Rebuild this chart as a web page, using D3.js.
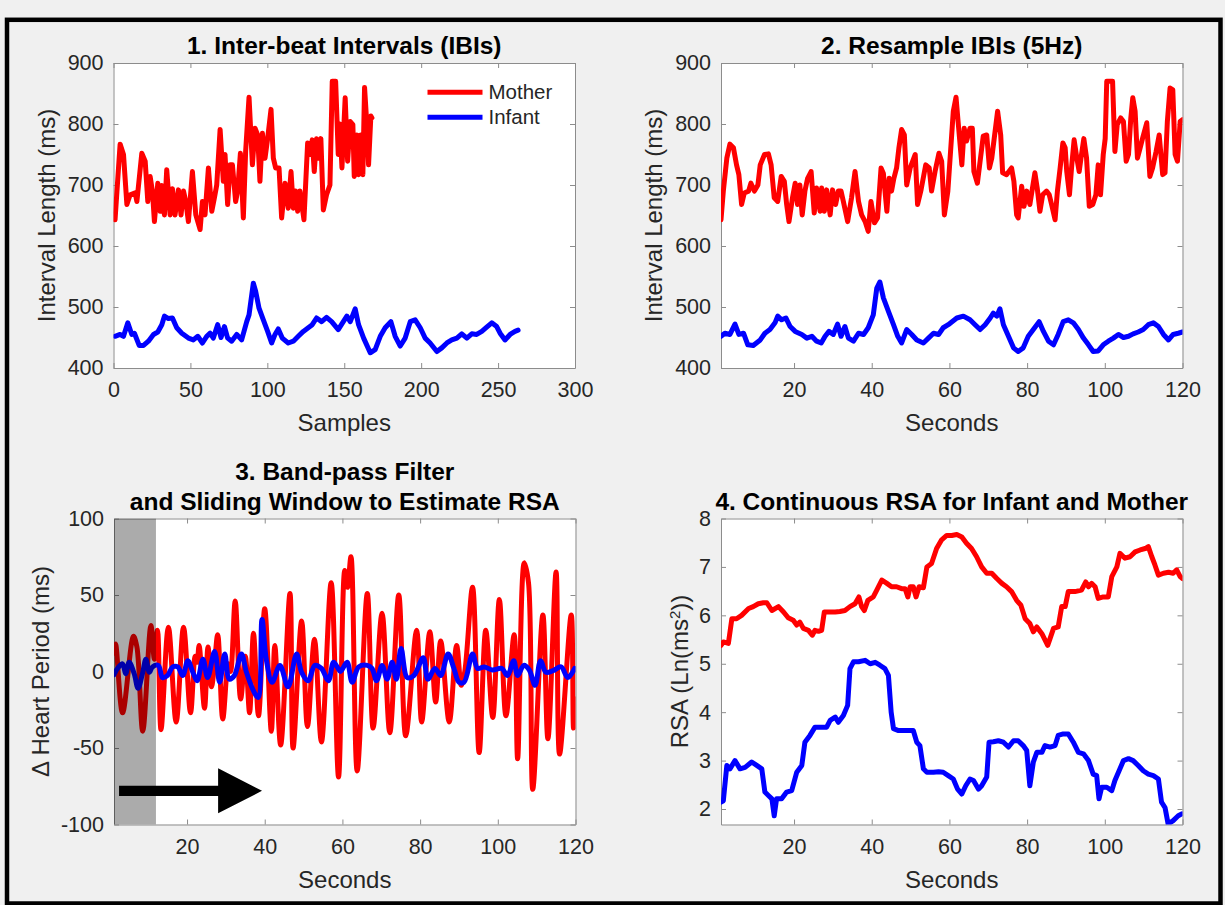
<!DOCTYPE html>
<html>
<head>
<meta charset="utf-8">
<script src="https://cdn.jsdelivr.net/npm/d3@7"></script>
<style>
  html, body { margin: 0; padding: 0; background: #f0f0f0; }
  svg { display: block; }
  text { font-family: "Liberation Sans", Arial, Helvetica, sans-serif; }
</style>
</head>
<body>
<svg id="fig" width="1225" height="905"></svg>
<script>
// ---------- 1. Inter-beat intervals, [sample, ms] ----------
const ibiMother = [[1,643],[4.3,767],[6.5,750],[8.7,668],[10.8,684],[14.1,687],[15.2,673],[18.4,752],[20.6,739],[22.3,673],[23.8,714],[25.3,690],[26.6,640],[28.8,703],[30.3,657],[31.4,699],[33.1,651],[34.6,725],[36.8,651],[38.3,694],[40.0,651],[42.2,692],[43.9,651],[45.5,690],[47.0,673],[48.7,640],[51.3,722],[53.5,651],[56.3,627],[57.8,673],[59.5,651],[61.7,728],[63.9,657],[65.6,679],[67.1,700],[69.3,791],[71.4,706],[72.5,750],[74.2,668],[75.8,733],[77.3,733],[79.4,673],[80.7,690],[82.5,752],[84.4,646],[85.9,755],[88.1,844],[90.3,733],[92.0,793],[93.7,782],[95.2,706],[96.8,785],[98.5,744],[100.2,776],[102.4,824],[103.9,744],[105.4,728],[107.6,728],[109.3,646],[111.5,703],[113.6,662],[115.4,722],[116.9,662],[118.4,690],[119.7,657],[121.2,690],[123.8,643],[126.2,769],[127.7,750],[129.2,774],[130.5,722],[132.0,776],[133.1,744],[134.8,776],[136.4,659],[138.5,684],[140.7,700],[142.2,870],[144.4,870],[146.1,750],[147.2,800],[148.5,728],[150.6,843],[152.2,739],[153.9,804],[155.6,799],[156.5,714],[158.2,782],[159.3,717],[160.8,782],[162.1,717],[163.2,860],[164.7,799],[165.8,733],[167.3,813],[168.0,810]];
const ibiInfant = [[1,452],[4.3,455],[6.5,452],[9.3,474],[11.9,455],[13.6,457],[16.7,437],[19.5,437],[22.7,444],[26.0,455],[28.8,459],[31.4,471],[33.1,485],[35.7,481],[38.3,482],[41.1,466],[44.4,457],[48.7,449],[51.9,446],[54.8,452],[57.8,441],[60.6,452],[62.8,457],[64.9,449],[67.7,471],[69.9,450],[72.1,468],[74.2,449],[76.8,444],[80.1,455],[83.3,446],[86.6,476],[88.1,487],[90.9,539],[92.4,526],[94.6,498],[97.4,479],[100.2,460],[102.8,441],[105.0,455],[107.1,464],[109.7,449],[113.6,441],[116.9,444],[120.1,452],[123.4,460],[126.6,466],[129.2,471],[132.0,482],[135.3,476],[138.5,483],[141.8,476],[146.1,463],[149.4,476],[151.7,485],[153.9,476],[157.1,497],[159.3,471],[162.6,449],[166.9,425],[170.1,430],[173.4,452],[176.6,466],[180.3,476],[183.1,452],[186.4,436],[189.6,449],[192.9,476],[196.1,479],[199.4,466],[202.6,449],[205.8,441],[210.2,427],[213.4,433],[216.7,441],[219.9,446],[223.2,449],[226.4,456],[229.7,449],[232.9,456],[236.1,455],[239.4,460],[242.6,467],[245.9,474],[249.1,468],[251.3,457],[254.5,446],[257.8,455],[261.0,460],[263.0,462]];

// ---------- 2. IBIs resampled at 5 Hz, [seconds, ms] ----------
const rsMother = [[1.2,643],[1.8,690],[2.7,744],[3.5,767],[4.4,761],[5.2,733],[5.8,717],[6.5,668],[7.2,687],[8.3,690],[8.9,703],[9.8,690],[10.7,700],[11.3,733],[12.4,750],[13.4,751],[14.1,733],[14.9,679],[15.8,673],[16.7,714],[17.5,706],[18.1,668],[18.7,640],[19.6,679],[20.3,703],[20.9,668],[21.5,700],[22.1,651],[22.8,690],[23.5,711],[24.4,722],[25.2,654],[25.8,695],[26.7,657],[27.1,695],[27.8,657],[28.4,692],[29.3,651],[29.9,692],[30.7,668],[31.4,690],[32.1,690],[32.7,673],[33.8,640],[34.8,679],[35.7,722],[36.6,673],[37.4,651],[38.3,640],[39.1,624],[39.8,673],[40.7,638],[41.5,646],[42.4,728],[43.0,719],[43.9,657],[44.5,711],[45.1,690],[45.7,711],[46.4,728],[47.0,761],[47.7,791],[48.4,782],[49.0,700],[49.9,728],[51.2,750],[51.8,668],[52.7,692],[53.9,733],[54.8,728],[55.4,690],[56.3,722],[57.3,752],[58.0,739],[58.7,651],[59.6,690],[61.0,821],[61.7,844],[62.3,799],[63.2,733],[63.8,793],[64.4,772],[65.3,793],[65.9,793],[66.3,722],[67.2,703],[67.9,739],[68.7,780],[69.6,782],[70.3,728],[70.9,744],[71.7,785],[72.4,821],[73.2,782],[73.7,720],[74.7,717],[76.0,728],[76.6,706],[77.3,651],[77.7,646],[78.6,698],[79.2,665],[79.9,690],[80.7,668],[82.0,720],[82.6,695],[83.3,657],[84.0,684],[85.0,690],[85.7,684],[86.3,668],[87.2,643],[87.8,690],[88.5,728],[89.2,769],[89.8,761],[90.2,722],[90.9,684],[91.5,733],[92.1,774],[92.8,744],[93.4,722],[94.0,750],[94.6,776],[95.3,744],[96.0,665],[96.9,668],[97.7,684],[98.3,733],[98.9,684],[99.6,750],[100.1,776],[100.5,870],[102.0,870],[102.6,755],[103.2,799],[104.1,810],[104.8,804],[105.5,739],[106.1,750],[106.7,810],[107.2,843],[107.8,821],[108.4,744],[109.1,761],[109.7,776],[110.8,802],[111.6,714],[112.3,728],[113.2,755],[114.0,782],[114.9,717],[115.5,720],[116.1,804],[116.8,859],[117.5,856],[118.1,750],[118.7,739],[119.4,804],[120.0,807]];
const rsInfant = [[1.2,452],[2.2,457],[3.5,455],[4.8,472],[5.8,455],[7.0,457],[8.1,438],[9.5,437],[11.3,446],[12.5,457],[13.8,463],[15.1,474],[15.8,485],[16.8,479],[17.9,482],[19.0,468],[20.3,460],[22.0,455],[23.3,449],[24.6,452],[25.8,444],[27.0,441],[28.0,452],[29.0,460],[30.1,455],[31.2,472],[32.1,452],[33.1,468],[34.0,449],[35.3,444],[36.6,457],[37.9,455],[39.1,466],[40.4,487],[41.3,531],[42.1,541],[43.0,515],[44.3,493],[45.6,471],[46.7,452],[47.7,441],[49.0,463],[50.3,455],[51.6,446],[53.3,441],[54.6,449],[55.9,457],[57.2,455],[58.4,466],[59.7,471],[61.9,482],[63.6,485],[65.3,479],[66.6,471],[67.9,463],[69.2,471],[70.5,482],[71.3,490],[72.2,485],[73.0,497],[73.9,471],[75.2,452],[76.5,433],[77.7,427],[79.0,433],[80.3,452],[81.6,463],[83.1,476],[84.2,460],[85.5,444],[86.8,438],[88.0,455],[89.3,476],[90.6,479],[91.9,474],[93.2,463],[94.5,449],[95.8,438],[97.0,427],[98.3,428],[99.6,438],[100.9,444],[102.2,449],[103.5,455],[104.8,450],[106.1,452],[107.3,456],[108.6,459],[109.9,463],[111.2,471],[112.5,474],[113.8,468],[115.1,455],[116.4,446],[117.6,455],[118.9,457],[120.0,459]];

// ---------- 3. Band-pass filtered heart period, [seconds, ms] ----------
const bpMother = [[1.2,12],[1.6,18],[3.4,-27],[6.2,23],[7.1,16],[8.6,-39],[10.7,30],[11.6,8],[12.4,27],[13.3,-38],[15.2,29],[17.2,-33],[19.1,29],[20.9,-27],[22.1,10],[22.6,6],[23.1,17],[24.5,-24],[25.4,16],[26.3,-10],[26.9,0],[27.9,24],[29.2,-31],[30.6,5],[31.2,0],[32.4,46],[33.8,-18],[35.0,10],[36.1,-27],[37.1,25],[38.4,-29],[40.0,41],[41.7,-39],[42.6,17],[44.1,-48],[46.5,51],[47.3,-50],[49.5,33],[51.0,-36],[52.8,21],[54.6,-46],[57.1,58],[59.0,-69],[60.6,66],[61.3,55],[62.2,75],[63.8,-65],[66.4,51],[67.9,-37],[70.2,38],[72.2,-40],[74.5,50],[76.3,-42],[79.1,27],[80.4,-33],[82.5,26],[84.0,-20],[85.3,20],[87.5,-33],[89.4,17],[90.6,-9],[91.5,0],[93.5,55],[95.2,-53],[96.9,27],[98.7,-30],[100.4,47],[102.1,-29],[104.2,24],[105.1,-57],[106.8,71],[107.9,58],[109.0,-77],[111.6,37],[112.9,-44],[115.0,65],[115.9,-54],[118.9,37],[119.5,-37],[120.0,-18]];
const bpInfant = [[1.2,-2],[2.1,2],[3.4,5],[4.2,-1.5],[5.1,6],[6.4,-1.5],[7.4,-11],[8.6,-0.5],[9.4,8],[10.3,-0.5],[11.1,3],[12.6,4],[13.7,-4],[15.0,-2.6],[16.3,3],[17.6,3],[18.9,-2.6],[20.2,7],[21.5,-0.5],[22.6,-6],[24.1,8],[25.3,-4],[27.1,13],[28.4,-7],[29.7,11.5],[30.9,-5],[32.2,-2.6],[34.0,11.5],[35.3,-0.5],[37.0,-12],[38.3,-17],[39.3,34],[40.4,8],[41.9,-7],[43.9,4],[46.0,-10],[48.2,11.5],[49.5,-0.5],[51.2,-6],[52.9,4],[54.6,2],[56.4,-6],[57.7,6],[58.9,2],[59.5,0],[61.2,6],[62.5,-7],[64.2,3],[66.4,4],[67.6,2],[68.8,-6],[70.2,4],[71.5,-5],[72.8,6],[73.9,-5],[75.1,15],[76.7,-4],[78.4,-2.6],[80.8,9],[82.0,-5],[83.8,2],[85.3,-2.6],[87.2,11.5],[88.7,2],[90.0,-7],[91.3,-7],[93.5,11.5],[94.8,2],[96.5,3],[98.6,1],[101.0,2],[102.5,-2.6],[104.1,7],[105.1,-2.6],[106.7,4],[108.1,1],[109.6,-9],[111.0,7],[112.4,-0.5],[114.2,0.5],[116.3,3],[118.0,-4],[119.8,2]];
const windowSpan = [1.2, 12];                                  // first analysis window, seconds
const arrowSpec = { start: 2.5, headBase: 28.0, tip: 39.3, level: -78, shaftHalf: 3.3, headHalf: 14.7 };

// ---------- 4. Continuous RSA, [seconds, ln(ms^2)] ----------
const rsaMother = [[1.2,5.38],[1.8,5.45],[3.1,5.42],[4.0,5.93],[5.2,5.93],[6.5,6.0],[8.3,6.14],[9.5,6.18],[10.8,6.24],[12.1,6.26],[13.0,6.26],[14.3,6.1],[16.0,6.18],[17.3,6.07],[18.5,5.95],[19.8,5.9],[20.7,5.8],[21.5,5.86],[22.4,5.73],[23.7,5.69],[24.7,5.59],[25.4,5.69],[26.3,5.67],[27.1,5.69],[27.8,6.07],[29.3,6.07],[30.6,6.07],[31.8,6.08],[33.1,6.1],[34.4,6.18],[35.7,6.24],[36.7,6.38],[37.4,6.18],[38.1,6.1],[39.0,6.31],[40.4,6.38],[41.3,6.52],[42.6,6.73],[43.9,6.66],[45.1,6.59],[46.4,6.59],[47.7,6.55],[48.6,6.55],[49.3,6.38],[49.9,6.59],[50.7,6.59],[51.4,6.38],[52.2,6.59],[53.3,6.57],[54.2,7.0],[55.4,7.07],[56.7,7.38],[58.0,7.56],[59.3,7.65],[60.6,7.65],[61.9,7.67],[63.2,7.62],[64.4,7.49],[65.7,7.38],[67.0,7.21],[68.3,7.0],[69.6,6.87],[70.9,6.87],[72.2,6.76],[73.5,6.66],[74.7,6.59],[76.0,6.49],[77.3,6.31],[78.4,6.21],[79.5,5.93],[80.7,5.83],[81.6,5.66],[82.5,5.76],[83.8,5.62],[85.3,5.38],[85.9,5.52],[86.8,5.73],[88.0,5.76],[88.9,6.18],[89.8,6.18],[90.6,6.49],[92.3,6.49],[94.0,6.52],[95.1,6.69],[95.8,6.59],[96.6,6.66],[97.5,6.59],[98.3,6.35],[99.6,6.38],[100.9,6.38],[101.8,6.8],[103.1,7.0],[103.9,7.28],[105.2,7.18],[106.5,7.21],[107.8,7.31],[109.1,7.35],[110.4,7.38],[111.2,7.42],[112.1,7.21],[112.9,7.04],[113.8,6.83],[115.1,6.87],[116.4,6.89],[117.6,6.87],[118.5,6.94],[119.4,6.8],[120.0,6.76]];
const rsaInfant = [[1.2,2.14],[1.8,2.17],[2.7,2.9],[3.5,2.83],[4.8,3.0],[6.1,2.83],[7.4,2.86],[9.1,2.97],[10.4,2.9],[11.7,2.83],[12.5,2.35],[13.4,2.28],[14.3,2.21],[14.9,1.86],[15.5,2.21],[16.8,2.21],[18.1,2.35],[19.4,2.38],[20.7,2.76],[22.0,2.9],[22.8,3.38],[24.1,3.52],[25.4,3.69],[27.1,3.69],[28.4,3.69],[29.3,3.83],[30.6,3.9],[31.4,3.79],[32.7,3.93],[33.8,4.14],[34.4,4.9],[35.3,5.04],[36.6,5.04],[38.3,5.07],[39.6,5.0],[40.9,5.03],[42.1,4.97],[43.4,4.9],[44.3,4.76],[45.0,4.0],[45.6,3.66],[46.9,3.62],[48.6,3.62],[49.9,3.62],[50.7,3.62],[51.6,3.38],[52.4,3.31],[53.3,2.83],[54.2,2.76],[55.9,2.76],[57.2,2.77],[58.4,2.76],[59.7,2.69],[61.0,2.62],[62.1,2.41],[63.2,2.31],[64.2,2.48],[65.3,2.62],[66.2,2.59],[67.5,2.41],[68.3,2.48],[69.6,2.66],[70.2,3.38],[71.3,3.39],[72.6,3.41],[73.9,3.38],[75.2,3.28],[76.5,3.41],[77.7,3.41],[79.0,3.31],[79.9,3.21],[80.7,2.48],[81.6,2.97],[82.5,3.17],[83.8,3.17],[84.6,3.31],[85.9,3.28],[87.2,3.31],[88.0,3.52],[89.3,3.55],[90.6,3.55],[91.9,3.38],[93.2,3.17],[94.5,3.14],[95.8,3.0],[97.0,2.72],[97.9,2.69],[98.5,2.21],[99.2,2.45],[100.5,2.45],[101.8,2.38],[102.6,2.59],[103.9,2.83],[104.8,3.0],[106.1,3.04],[107.3,3.0],[108.6,2.9],[109.9,2.79],[111.2,2.72],[112.5,2.69],[113.8,2.62],[114.6,2.14],[115.5,2.03],[116.3,1.69],[117.6,1.76],[118.9,1.86],[119.8,1.9]];

// ---------- axis ticks ----------
const sampleTicks = [0, 50, 100, 150, 200, 250, 300];
const secondTicks = [20, 40, 60, 80, 100, 120];
const ibiTicks = [400, 500, 600, 700, 800, 900];
const hpTicks = [-100, -50, 0, 50, 100];
const rsaTicks = [2, 3, 4, 5, 6, 7, 8];
const legendNames = ["Mother", "Infant"];

const RED = "#ff0000", BLUE = "#0000ff";
const TICK_FONT = 21.5, LABEL_FONT = 24, TITLE_FONT = 24.5, LINE_W = 5;
const AXIS_GRAY = "#8c8c8c", TEXT = "#262626";
const plainNumber = d => String(d);   // hyphen-minus, no forced decimals

const svg = d3.select("#fig");
svg.append("rect").attr("width", 1225).attr("height", 905).attr("fill", "#f0f0f0");
svg.append("rect").attr("x", 7).attr("y", 19.8).attr("width", 1213.5).attr("height", 883.7)
  .attr("fill", "none").attr("stroke", "#000").attr("stroke-width", 4.5);

let clipCount = 0;

function drawPanel(o) {
  const g = svg.append("g");
  const x = d3.scaleLinear().domain(o.xDomain).range([o.left, o.left + o.width]);
  const y = d3.scaleLinear().domain(o.yDomain).range([o.top + o.height, o.top]);

  g.append("rect").attr("x", o.left).attr("y", o.top).attr("width", o.width).attr("height", o.height)
    .attr("fill", "#fff");

  const clipId = "clip" + (clipCount++);
  svg.append("clipPath").attr("id", clipId).append("rect")
    .attr("x", o.left).attr("y", o.top).attr("width", o.width).attr("height", o.height);

  // axes: ticks point inward on all four sides
  const styleAxis = (sel) => {
    sel.attr("font-size", null).attr("font-family", null);
    sel.selectAll("path.domain").attr("stroke", AXIS_GRAY).attr("stroke-width", 1);
    sel.selectAll(".tick line").attr("stroke", AXIS_GRAY).attr("stroke-width", 1);
    sel.selectAll(".tick text").attr("fill", TEXT).style("font-size", TICK_FONT + "px");
  };
  g.append("g").attr("transform", `translate(0,${o.top + o.height})`)
    .call(d3.axisBottom(x).tickValues(o.xTicks).tickFormat(plainNumber)
      .tickSizeInner(-5).tickSizeOuter(0).tickPadding(14))
    .call(styleAxis);
  g.append("g").attr("transform", `translate(0,${o.top})`)
    .call(d3.axisTop(x).tickValues(o.xTicks).tickSizeInner(-5).tickSizeOuter(0).tickFormat(""))
    .call(styleAxis);
  g.append("g").attr("transform", `translate(${o.left},0)`)
    .call(d3.axisLeft(y).tickValues(o.yTicks).tickFormat(plainNumber)
      .tickSizeInner(-5).tickSizeOuter(0).tickPadding(10))
    .call(styleAxis);
  g.append("g").attr("transform", `translate(${o.left + o.width},0)`)
    .call(d3.axisRight(y).tickValues(o.yTicks).tickSizeInner(-5).tickSizeOuter(0).tickFormat(""))
    .call(styleAxis);

  const plot = g.append("g").attr("clip-path", `url(#${clipId})`);
  o.series.forEach(s => {
    const line = d3.line().x(d => x(d[0])).y(d => y(d[1])).curve(o.curve || d3.curveLinear);
    plot.append("path").datum(s.data).attr("d", line)
      .attr("fill", "none").attr("stroke", s.color).attr("stroke-width", LINE_W)
      .attr("stroke-linejoin", "round").attr("stroke-linecap", "round");
  });

  // titles
  o.title.forEach((t, i) => {
    g.append("text").attr("x", o.left + o.width / 2).attr("y", o.titleY[i])
      .attr("text-anchor", "middle").attr("font-weight", "bold").attr("fill", "#000")
      .style("font-size", TITLE_FONT + "px").text(t);
  });
  // x label
  g.append("text").attr("x", o.left + o.width / 2).attr("y", o.top + o.height + 63)
    .attr("text-anchor", "middle").attr("fill", TEXT).style("font-size", LABEL_FONT + "px").text(o.xLabel);
  // y label
  const yl = g.append("text")
    .attr("transform", `translate(${o.yLabelX},${o.top + o.height / 2}) rotate(-90)`)
    .attr("dy", "0.35em").attr("text-anchor", "middle").attr("fill", TEXT)
    .style("font-size", LABEL_FONT + "px");
  o.yLabel(yl);

  return { g, x, y, plot };
}

// Panel 1
const p1 = drawPanel({
  left: 113.5, top: 63, width: 461.5, height: 305,
  xDomain: [0, 300], yDomain: [400, 900], xTicks: sampleTicks, yTicks: ibiTicks,
  title: ["1. Inter-beat Intervals (IBIs)"], titleY: [54],
  xLabel: "Samples", yLabelX: 47, yLabel: t => t.text("Interval Length (ms)"),
  series: [{ data: ibiMother, color: RED }, { data: ibiInfant, color: BLUE }]
});
// legend (no box)
[RED, BLUE].forEach((c, i) => {
  const ly = 92.3 + i * 25;
  p1.g.append("line").attr("x1", 427.5).attr("x2", 482.5).attr("y1", ly).attr("y2", ly)
    .attr("stroke", c).attr("stroke-width", LINE_W);
  p1.g.append("text").attr("x", 488.5).attr("y", ly).attr("dy", "0.35em").attr("fill", TEXT)
    .style("font-size", "20.5px").text(legendNames[i]);
});

// Panel 2
drawPanel({
  left: 721, top: 63, width: 461.5, height: 305,
  xDomain: [1.2, 120], yDomain: [400, 900], xTicks: secondTicks, yTicks: ibiTicks,
  title: ["2. Resample IBIs (5Hz)"], titleY: [54],
  xLabel: "Seconds", yLabelX: 654, yLabel: t => t.text("Interval Length (ms)"),
  series: [{ data: rsMother, color: RED }, { data: rsInfant, color: BLUE }]
});

// Panel 3
const p3 = drawPanel({
  left: 114, top: 518.5, width: 461.5, height: 306,
  xDomain: [1.2, 120], yDomain: [-100, 100], xTicks: secondTicks, yTicks: hpTicks,
  title: ["3. Band-pass Filter", "and Sliding Window to Estimate RSA"], titleY: [480, 509.5],
  xLabel: "Seconds", yLabelX: 41, yLabel: t => t.text("\u0394 Heart Period (ms)"),
  curve: d3.curveCatmullRom.alpha(0.5),
  series: [{ data: bpMother, color: RED }, { data: bpInfant, color: BLUE }]
});
// sliding window shading over the first window
p3.plot.append("rect")
  .attr("x", p3.x(windowSpan[0])).attr("width", p3.x(windowSpan[1]) - p3.x(windowSpan[0]))
  .attr("y", p3.y(100)).attr("height", p3.y(-100) - p3.y(100))
  .attr("fill", "#000").attr("fill-opacity", 0.33);
// arrow showing the window moving forward in time
{
  const a = arrowSpec, x = p3.x, y = p3.y;
  const pts = [
    [a.start, a.level + a.shaftHalf], [a.headBase, a.level + a.shaftHalf],
    [a.headBase, a.level + a.headHalf], [a.tip, a.level],
    [a.headBase, a.level - a.headHalf], [a.headBase, a.level - a.shaftHalf],
    [a.start, a.level - a.shaftHalf]
  ];
  p3.plot.append("path")
    .attr("d", d3.line().x(d => x(d[0])).y(d => y(d[1]))(pts) + "Z")
    .attr("fill", "#000");
}

// Panel 4
drawPanel({
  left: 721, top: 518.5, width: 461.5, height: 306,
  xDomain: [1.2, 120], yDomain: [1.68, 8], xTicks: secondTicks, yTicks: rsaTicks,
  title: ["4. Continuous RSA for Infant and Mother"], titleY: [509.5],
  xLabel: "Seconds", yLabelX: 680,
  yLabel: t => {
    t.append("tspan").text("RSA (Ln(ms");
    t.append("tspan").attr("baseline-shift", "super").style("font-size", "15px").text("2");
    t.append("tspan").text("))");
  },
  series: [{ data: rsaMother, color: RED }, { data: rsaInfant, color: BLUE }]
});
</script>
</body>
</html>
